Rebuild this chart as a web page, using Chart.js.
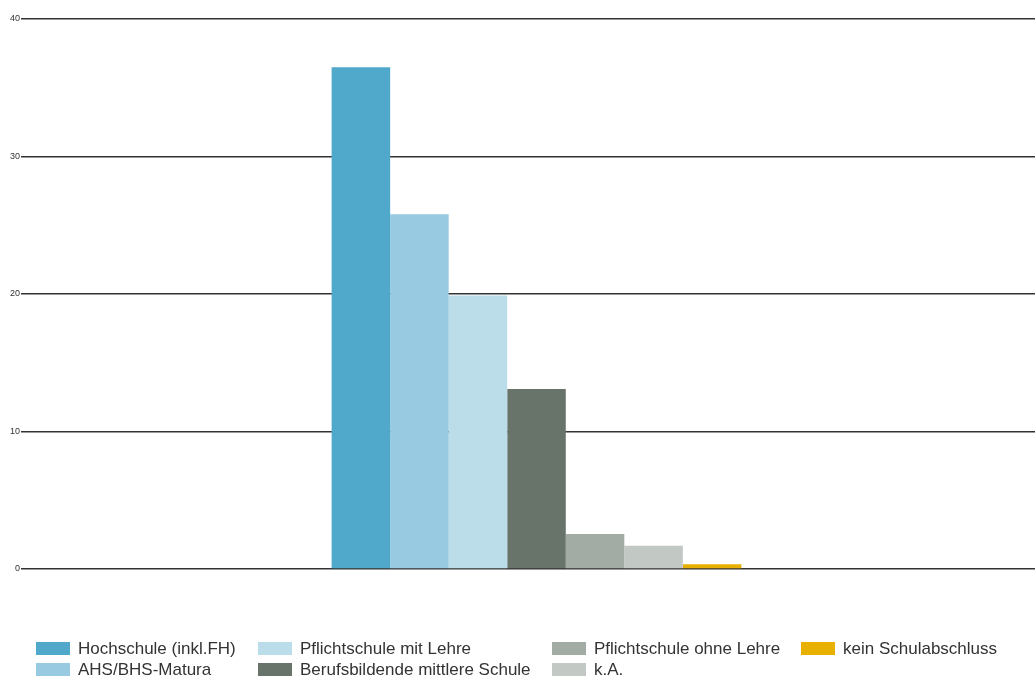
<!DOCTYPE html>
<html lang="de">
<head>
<meta charset="utf-8">
<script src="https://cdn.jsdelivr.net/npm/chart.js@4"></script>
<style>
  html, body { margin: 0; padding: 0; background: #fff; overflow: hidden; }
  body { width: 1035px; height: 679px; position: relative; font-family: "Liberation Sans", Arial, sans-serif; }
  #wrap { position: absolute; left: 0; top: 0; width: 1050px; height: 590px; }
  #legend { position: absolute; left: 0; top: 0; width: 1035px; height: 679px; pointer-events: none; }
  .item { position: absolute; display: flex; align-items: center; font-size: 17px; color: #333; white-space: nowrap; line-height: 13px; }
  .item .sw { width: 34px; height: 13px; margin-right: 8px; }
</style>
</head>
<body>
<div id="wrap"><canvas id="chart"></canvas></div>
<div id="legend"></div>
<script>
// Anteil nach höchster abgeschlossener Ausbildung (%)
const SERIES = [
  "Hochschule (inkl.FH)",
  "AHS/BHS-Matura",
  "Pflichtschule mit Lehre",
  "Berufsbildende mittlere Schule",
  "Pflichtschule ohne Lehre",
  "k.A.",
  "kein Schulabschluss",
];
const VALUES = [36.5, 25.8, 19.9, 13.1, 2.55, 1.7, 0.35];
const COLORS = ["#50a9cb", "#98cbe1", "#badde9", "#68736a", "#a3aba5", "#c2c8c3", "#e8b100"];
const Y_TICKS = [0, 10, 20, 30, 40];

// Legende: 4 Spalten, 2 Zeilen, spaltenweise gefüllt
const LEG_COLS = [36, 258, 552, 801];
const LEG_ROWS = [642, 663];

new Chart(document.getElementById("chart"), {
  type: "bar",
  data: {
    labels: [""],
    datasets: SERIES.map((s, i) => ({
      label: s,
      data: [VALUES[i]],
      backgroundColor: COLORS[i],
      borderWidth: 0,
      barPercentage: 1,
      categoryPercentage: 0.399,
    })),
  },
  options: {
    responsive: true,
    maintainAspectRatio: false,
    animation: false,
    layout: { padding: { left: 9, top: 19, right: 0, bottom: 21 } },
    plugins: { legend: { display: false }, tooltip: { enabled: false } },
    scales: {
      x: { display: false },
      y: {
        min: 0, max: 40,
        afterBuildTicks: ax => { ax.ticks = Y_TICKS.map(v => ({ value: v })); },
        border: { display: false },
        grid: { color: "#333", lineWidth: 1.5, tickLength: 2 },
        ticks: { font: { size: 9, family: "Liberation Sans" }, color: "#333", padding: 1 },
      },
    },
  },
});

document.getElementById("legend").innerHTML = SERIES.map((s, i) => {
  const col = Math.floor(i / 2), row = i % 2;
  return `<div class="item" style="left:${LEG_COLS[col]}px;top:${LEG_ROWS[row]}px">
    <span class="sw" style="background:${COLORS[i]}"></span>${s}</div>`;
}).join("");
</script>
</body>
</html>
